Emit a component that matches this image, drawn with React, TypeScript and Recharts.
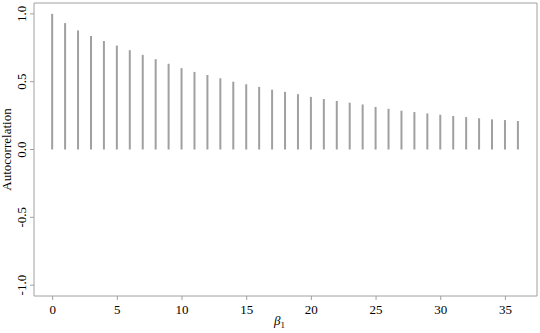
import React from "react";
import { BarChart, Bar, XAxis, YAxis, ReferenceArea } from "recharts";

const lags = [
  0, 1, 2, 3, 4, 5, 6, 7, 8, 9, 10, 11, 12, 13, 14, 15, 16, 17, 18, 19, 20,
  21, 22, 23, 24, 25, 26, 27, 28, 29, 30, 31, 32, 33, 34, 35, 36,
];
const acf = [
  1.0, 0.932, 0.878, 0.837, 0.8, 0.766, 0.732, 0.698, 0.666, 0.632, 0.6,
  0.572, 0.549, 0.525, 0.5, 0.481, 0.462, 0.441, 0.425, 0.408, 0.388, 0.372,
  0.358, 0.345, 0.332, 0.314, 0.3, 0.286, 0.276, 0.266, 0.256, 0.247, 0.239,
  0.23, 0.222, 0.217, 0.21,
];
const xTicks = [0, 5, 10, 15, 20, 25, 30, 35];
const yTicks = [-1, -0.5, 0, 0.5, 1];

const data = lags.map((lag, i) => ({ lag, acf: acf[i] }));

const FONT = "'Liberation Serif', 'Times New Roman', serif";
const GREY = "#a0a0a0";
const xDomain = [-1.44, 37.44];
const yDomain = [-1.08, 1.08];

const YTick = (props: any) => {
  const { x, y, payload } = props;
  return (
    <text
      x={x}
      y={y}
      transform={`rotate(-90, ${x}, ${y})`}
      textAnchor="middle"
      fontFamily={FONT}
      fontSize={13}
      fill="#000"
    >
      {payload.value.toFixed(1)}
    </text>
  );
};

const XLabel = (props: any) => {
  const { viewBox } = props;
  const cx = viewBox.x + viewBox.width / 2 - 6;
  return (
    <text x={cx} y={325} fontFamily={FONT} fontSize={13} fill="#000" textAnchor="middle">
      <tspan fontStyle="italic">β</tspan>
      <tspan fontSize={9} dy={3}>1</tspan>
    </text>
  );
};

const YLabel = (props: any) => {
  const { viewBox } = props;
  const cy = viewBox.y + viewBox.height / 2;
  return (
    <text
      x={11}
      y={cy}
      transform={`rotate(-90, 11, ${cy})`}
      fontFamily={FONT}
      fontSize={13}
      fill="#000"
      textAnchor="middle"
    >
      Autocorrelation
    </text>
  );
};

export default function App() {
  return (
    <div style={{ position: "absolute", left: 0, top: 0, background: "#fff" }}>
      <BarChart
        width={540}
        height={333}
        data={data}
        margin={{ top: 3, right: 3, bottom: 0, left: 0 }}
      >
        <XAxis
          dataKey="lag"
          type="number"
          domain={xDomain}
          ticks={xTicks}
          axisLine={false}
          tickLine={{ stroke: GREY }}
          tickSize={4}
          tickMargin={5}
          height={37}
          tick={{ fontFamily: FONT, fontSize: 13, fill: "#000" }}
          label={<XLabel />}
          allowDataOverflow
        />
        <YAxis
          type="number"
          domain={yDomain}
          ticks={yTicks}
          axisLine={false}
          tickLine={{ stroke: GREY }}
          tickSize={4}
          tickMargin={4}
          width={34}
          tick={<YTick />}
          label={<YLabel />}
          allowDataOverflow
        />
        <ReferenceArea
          x1={xDomain[0]}
          x2={xDomain[1]}
          y1={yDomain[0]}
          y2={yDomain[1]}
          fill="none"
          stroke={GREY}
          strokeWidth={1}
        />
        <Bar dataKey="acf" fill={GREY} barSize={2} isAnimationActive={false} />
      </BarChart>
    </div>
  );
}
